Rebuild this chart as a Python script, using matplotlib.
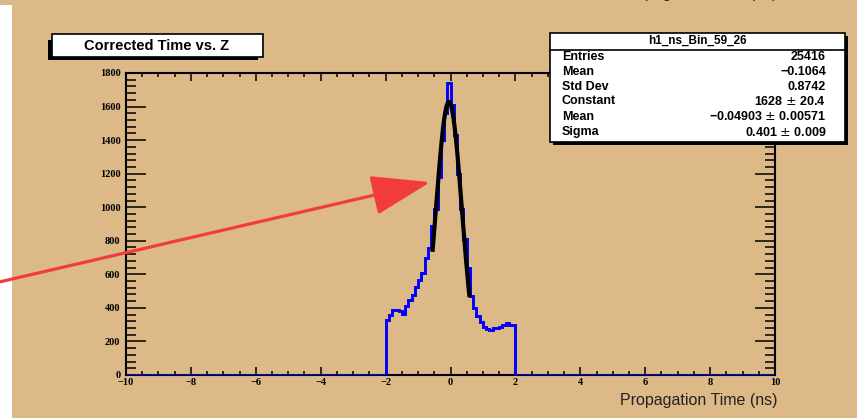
import numpy as np
import matplotlib
matplotlib.use('Agg')
import matplotlib.pyplot as plt
from matplotlib.patches import Rectangle, FancyArrowPatch

# Histogram contents (0.1 ns bins from -2.0 to 2.0); zero outside this range
core_low = -2.0
bin_width = 0.1
core_counts = [330, 360, 385, 385, 380, 365, 410, 445, 475, 525,
               565, 605, 700, 755, 890, 990, 1180, 1400, 1560, 1740,
               1610, 1430, 1200, 990, 810, 640, 470, 400, 350, 315,
               285, 272, 270, 278, 282, 285, 300, 312, 300, 300]

# Gaussian fit parameters (from the stats box)
fit_const = 1628
fit_mean = -0.04903
fit_sigma = 0.401
fit_range = (-0.55, 0.58)

stats_title = 'h1_ns_Bin_59_26'
stats_labels = ['Entries', 'Mean', 'Std Dev', 'Constant', 'Mean', 'Sigma']
stats_values = ['25416', '\u22120.1064', '0.8742', '1628 $\\pm$ 20.4',
                '\u22120.04903 $\\pm$ 0.00571', '0.401 $\\pm$ 0.009']

title = 'Corrected Time vs. Z'
xlabel = 'Propagation Time (ns)'

W, H = 857, 418
BG = '#DDB988'

# full bin array from -10 to 10
edges = np.round(np.arange(-10, 10 + bin_width / 2, bin_width), 3)
counts = np.zeros(len(edges) - 1)
i0 = int(round((core_low + 10) / bin_width))
counts[i0:i0 + len(core_counts)] = core_counts

fig = plt.figure(figsize=(W / 100, H / 100), dpi=100)
fig.patch.set_facecolor(BG)


def fx(x):
    return x / W


def fy(y):
    return 1 - y / H


# white strip on the left
fig.add_artist(Rectangle((0, 0), fx(12), fy(5), transform=fig.transFigure,
                         facecolor='white', edgecolor='none', zorder=0))

ax = fig.add_axes([fx(126), fy(375), fx(775) - fx(126), fy(73) - fy(375)])
ax.set_facecolor(BG)

ax.stairs(counts, edges, color='#0000FF', linewidth=2.1, zorder=3)
ax.plot([-2, 2], [0, 0], color='#C88A30', linewidth=1.2, zorder=2)

xf = np.linspace(fit_range[0], fit_range[1], 200)
yf = fit_const * np.exp(-0.5 * ((xf - fit_mean) / fit_sigma) ** 2)
ax.plot(xf, yf, color='black', linewidth=3.0, zorder=4)

ax.set_xlim(-10, 10)
ax.set_ylim(0, 1800)
ax.set_xticks(np.arange(-10, 11, 2))
ax.set_xticks(np.arange(-10, 10.01, 0.5), minor=True)
ax.set_yticks(np.arange(0, 1801, 200))
ax.set_yticks(np.arange(0, 1801, 40), minor=True)
ax.set_xticklabels([str(v).replace('-', '\u2212') for v in range(-10, 11, 2)])

for s in ax.spines.values():
    s.set_linewidth(1.5)
ax.tick_params(axis='y', which='major', direction='in', length=14.5, width=1.1,
               left=True, right=True, pad=4)
ax.tick_params(axis='y', which='minor', direction='in', length=7.2, width=1.1,
               left=True, right=True)
ax.tick_params(axis='x', which='major', direction='in', length=5.5, width=1.1,
               bottom=True, top=True, pad=2)
ax.tick_params(axis='x', which='minor', direction='in', length=2.8, width=1.1,
               bottom=True, top=True)
for lab in ax.get_xticklabels() + ax.get_yticklabels():
    lab.set_fontfamily('Liberation Serif')
    lab.set_fontweight('bold')
    lab.set_fontsize(7.5)

# x axis title at the right
fig.text(fx(777), fy(400), xlabel, ha='right', va='center',
         fontsize=11.5, family='Liberation Sans', color='#222222')
# clipped copy at the very top (only descenders show)
fig.text(fx(777), fy(-6.5), xlabel, ha='right', va='center',
         fontsize=11.5, family='Liberation Sans', color='#222222')

# title box with shadow
fig.add_artist(Rectangle((fx(48), fy(60)), fx(258) - fx(48), fy(40) - fy(60),
                         transform=fig.transFigure, facecolor='black',
                         edgecolor='none', zorder=5))
fig.add_artist(Rectangle((fx(52), fy(57)), fx(263) - fx(52), fy(34) - fy(57),
                         transform=fig.transFigure, facecolor='white',
                         edgecolor='black', linewidth=1.2, zorder=6))
fig.text(fx(157), fy(45.5), title, ha='center', va='center', fontsize=10.5,
         family='Liberation Sans', fontweight='bold', zorder=7)

# stats box with shadow
fig.add_artist(Rectangle((fx(553), fy(145)), fx(848) - fx(553), fy(36) - fy(145),
                         transform=fig.transFigure, facecolor='black',
                         edgecolor='none', zorder=5))
fig.add_artist(Rectangle((fx(550), fy(142)), fx(845) - fx(550), fy(33) - fy(142),
                         transform=fig.transFigure, facecolor='white',
                         edgecolor='black', linewidth=1.2, zorder=6))
fig.add_artist(plt.Line2D([fx(550), fx(845)], [fy(50), fy(50)],
                          transform=fig.transFigure, color='black',
                          linewidth=1.2, zorder=7))
fig.text(fx(697), fy(41), stats_title, ha='center', va='center', fontsize=8.5,
         family='Liberation Sans', fontweight='bold', zorder=7)
rows_y = [57, 72, 86.5, 101.5, 117, 132]
for lab, val, y in zip(stats_labels, stats_values, rows_y):
    fig.text(fx(562), fy(y), lab, ha='left', va='center', fontsize=9,
             family='Liberation Sans', fontweight='bold', zorder=7)
    fig.text(fx(826), fy(y), val, ha='right', va='center', fontsize=9,
             family='Liberation Sans', fontweight='bold', zorder=7)

# red arrow pointing at the fit
arrow = FancyArrowPatch((-5, H - 283), (433, H - 181.5), transform=None,
                        arrowstyle='-|>,head_length=37,head_width=12.5',
                        mutation_scale=1, color='#F23C3C', linewidth=2.3,
                        zorder=8)
fig.add_artist(arrow)

fig.savefig('out.png', dpi=100, facecolor=BG)
